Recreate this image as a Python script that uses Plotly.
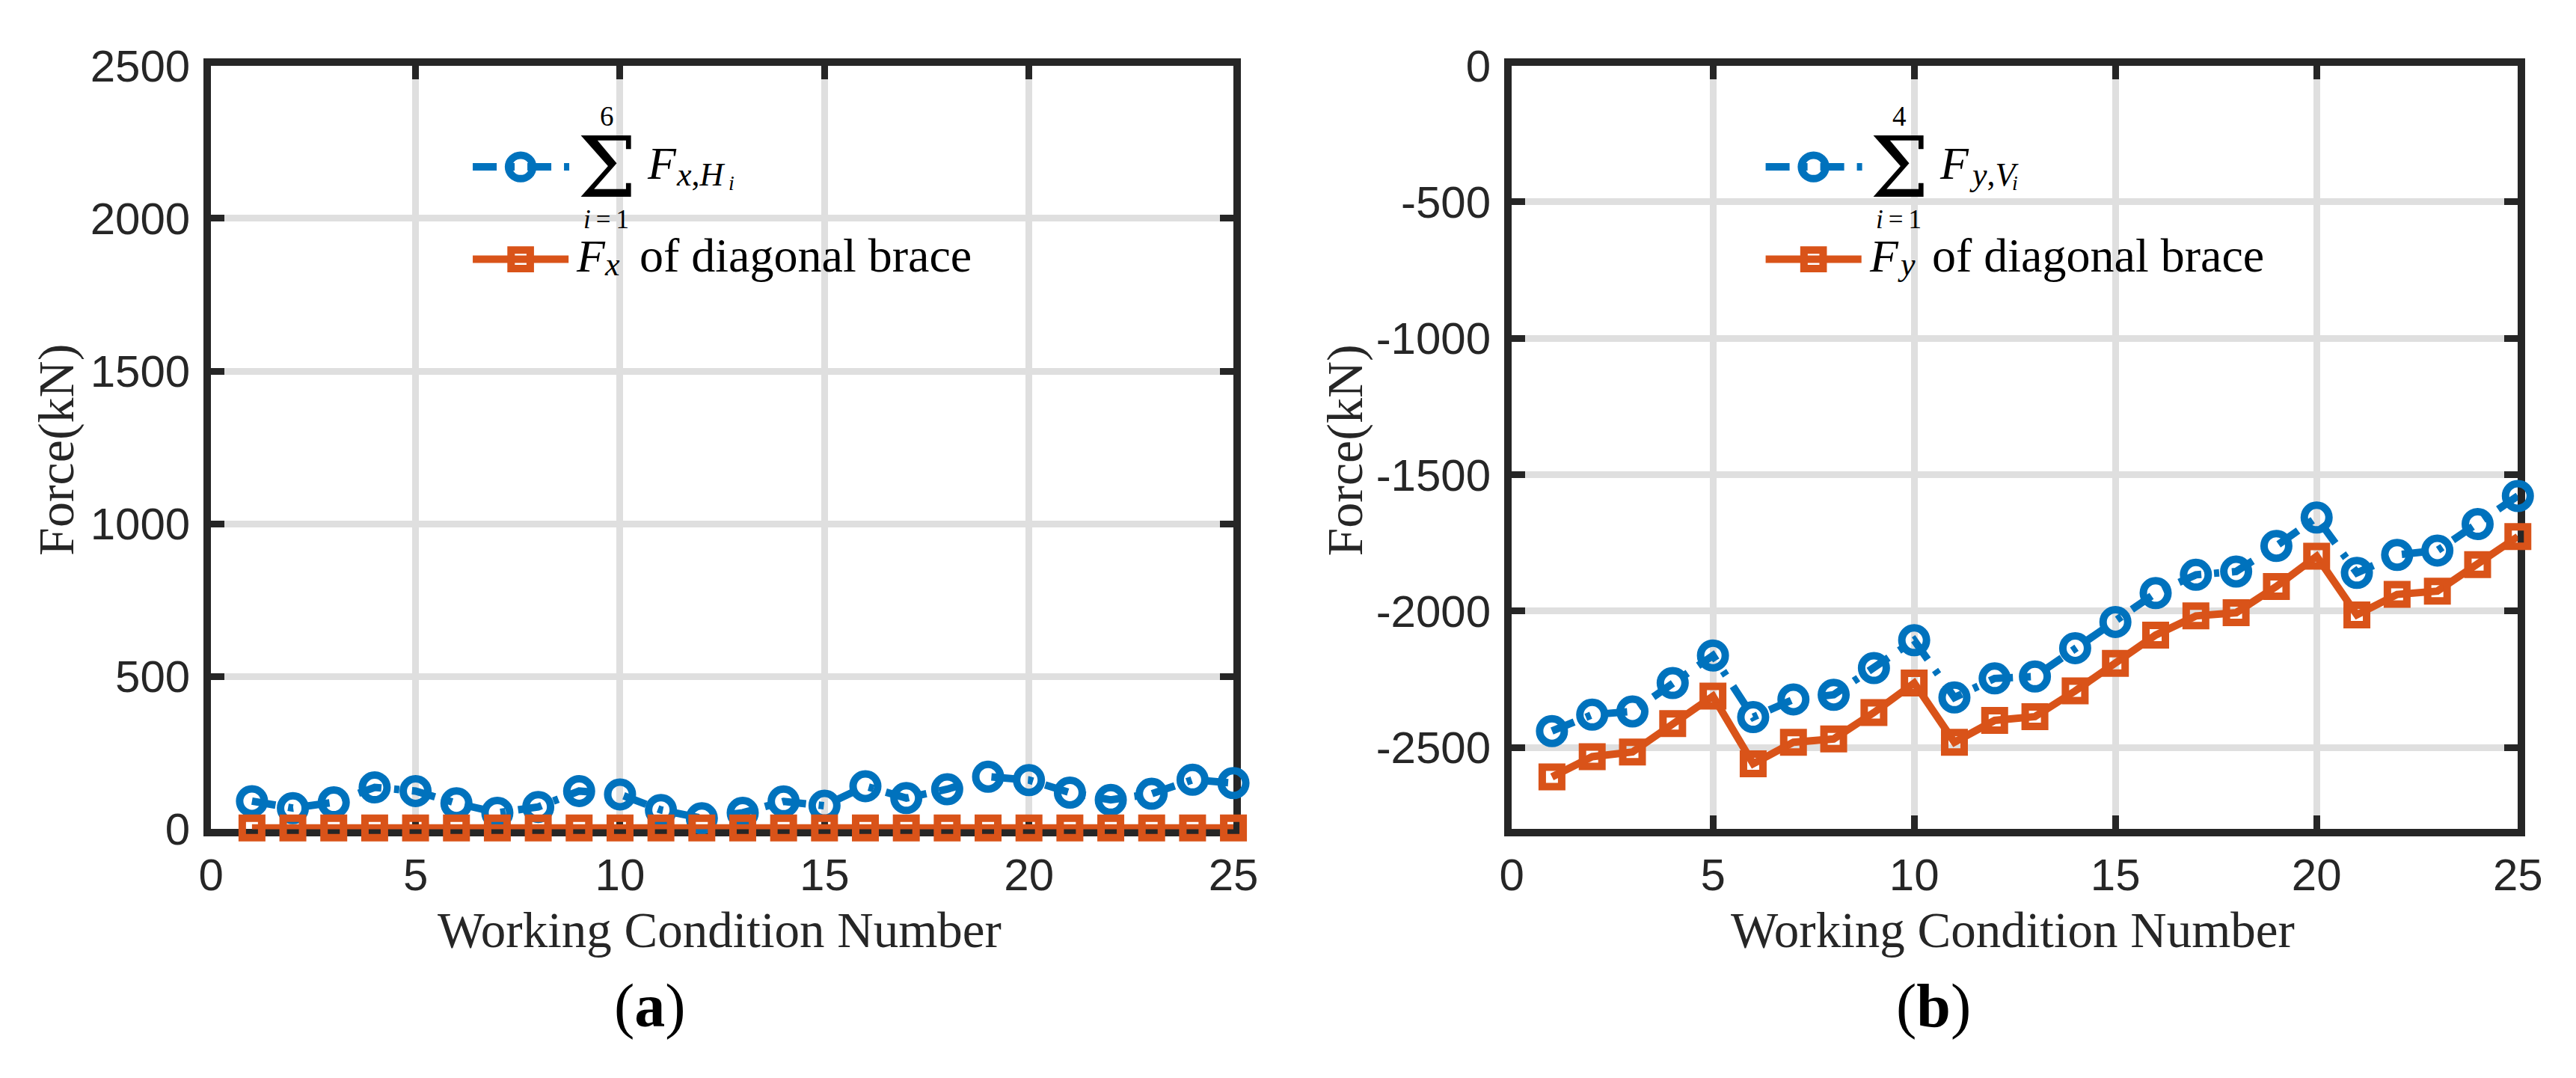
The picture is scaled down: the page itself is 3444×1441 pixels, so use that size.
import plotly.graph_objects as go

W, H = 3444, 1441

# ---------------- data ----------------
cond = list(range(1, 26))
sum_fx = [92, 69, 88, 137, 125, 85, 54, 73, 125, 114, 63, 36, 54, 91, 77,
          141, 102, 131, 172, 161, 120, 96, 116, 162, 151]
brace_fx = [4] * 25
sum_fy = [-2440, -2380, -2368, -2264, -2163, -2389, -2324, -2307, -2209, -2107,
          -2317, -2247, -2240, -2136, -2040, -1934, -1867, -1855, -1761, -1657,
          -1860, -1794, -1778, -1681, -1578]
brace_fy = [-2608, -2534, -2517, -2413, -2312, -2560, -2481, -2469, -2372, -2264,
            -2481, -2401, -2387, -2293, -2192, -2088, -2018, -2006, -1910, -1799,
            -2014, -1939, -1927, -1830, -1727]
x_ticks = [0, 5, 10, 15, 20, 25]
y1_ticks = [0, 500, 1000, 1500, 2000, 2500]
y2_ticks = [-2500, -2000, -1500, -1000, -500, 0]
y2_ticktext = ["-2500", "-2000", "-1500", "-1000", "-500", "0"]

BLUE = "#0072BD"
ORANGE = "#D95319"
AX = "#262626"
GRID = "#dfdfdf"
SANS = "Liberation Sans"
SERIF = "Liberation Serif"
DASHDOT = "32px,17px,7px,17px"


def px(x):
    return x / W


def py(y):
    return 1 - y / H


fig = go.Figure()


def add_series(xa, ya, ys, color, symbol, msize, mlw, dash):
    fig.add_trace(go.Scatter(
        x=cond, y=ys, xaxis=xa, yaxis=ya, mode="lines+markers",
        line=dict(color=color, width=10, dash=dash),
        marker=dict(symbol=symbol, size=msize, color=color,
                    line=dict(color=color, width=mlw)),
        cliponaxis=False, showlegend=False))


add_series("x", "y", sum_fx, BLUE, "circle-open", 33, 10, DASHDOT)
add_series("x", "y", brace_fx, ORANGE, "square-open", 26, 10, "solid")
add_series("x2", "y2", sum_fy, BLUE, "circle-open", 33, 10, DASHDOT)
add_series("x2", "y2", brace_fy, ORANGE, "square-open", 26, 10, "solid")

axis_common = dict(
    showline=True, linewidth=10, linecolor=AX, mirror="ticks",
    ticks="inside", ticklen=18, tickwidth=9, tickcolor=AX,
    showgrid=True, gridcolor=GRID, gridwidth=9, zeroline=False,
    tickfont=dict(family=SANS, size=60, color=AX), layer="below traces",
)

yb, yt = 1119.5, 49
fig.update_layout(
    width=W, height=H, margin=dict(l=0, r=0, t=0, b=0),
    paper_bgcolor="white", plot_bgcolor="white", showlegend=False,
    xaxis=dict(domain=[px(261), px(1648)], range=[0, 25], tickvals=x_ticks,
               anchor="y", **axis_common),
    yaxis=dict(domain=[py(yb), py(yt)], range=[0, 2500], tickvals=y1_ticks,
               anchor="x", ticklabelstandoff=6, **axis_common),
    xaxis2=dict(domain=[px(2025.5), px(3390.5)], range=[0, 25], tickvals=x_ticks,
                anchor="y2", **axis_common),
    yaxis2=dict(domain=[py(yb), py(yt)], range=[-2800, 0], tickvals=y2_ticks,
                ticktext=y2_ticktext, anchor="x2", ticklabelstandoff=6,
                **axis_common),
)

ann = []


def text(x, y, s, size, xanchor="left", family=SERIF, color="black", angle=0):
    ann.append(dict(x=px(x), y=py(y), xref="paper", yref="paper", text=s,
                    showarrow=False, xanchor=xanchor, yanchor="middle",
                    textangle=angle, borderpad=0,
                    font=dict(family=family, size=size, color=color)))


# axis titles
for cx in (951, 2705):
    text(cx, 1261, "Working Condition Number", 67, "center", color=AX)
text(50, 588, "Force(kN)", 68, "center", color=AX, angle=-90)
text(1799, 588, "Force(kN)", 68, "center", color=AX, angle=-90)
# panel labels
text(856, 1367, "(<b>a</b>)", 82, "center")
text(2598, 1367, "(<b>b</b>)", 82, "center")

# legends (drawn manually)
shapes = []
legend_specs = [
    (0, "6", "<i>x</i>,<i>H</i>", 962, "<i>x</i>"),
    (1754, "4", "<i>y</i>,<i>V</i>", 2703, "<i>y</i>"),
]
for off, top, sub1, sub_i_x, sub2 in legend_specs:
    # row 1 sample (dash-dot line with open circle)
    shapes.append(dict(type="line", xref="paper", yref="paper",
                       x0=px(616 + off), x1=px(747 + off), y0=py(191), y1=py(191),
                       line=dict(color=BLUE, width=10, dash=DASHDOT)))
    shapes.append(dict(type="circle", xref="paper", yref="paper",
                       x0=px(681 + off - 16.5), x1=px(681 + off + 16.5),
                       y0=py(191 - 16.5), y1=py(191 + 16.5),
                       line=dict(color=BLUE, width=10)))
    # row 2 sample (solid line with open square)
    shapes.append(dict(type="line", xref="paper", yref="paper",
                       x0=px(616 + off), x1=px(746 + off), y0=py(320.5), y1=py(320.5),
                       line=dict(color=ORANGE, width=10)))
    shapes.append(dict(type="rect", xref="paper", yref="paper",
                       x0=px(681 + off - 13), x1=px(681 + off + 13),
                       y0=py(320.5 - 13), y1=py(320.5 + 13),
                       line=dict(color=ORANGE, width=10)))
    # row 1 label: summation with limits
    text(798 + off, 192, "\u03a3", 112, "center", family="DejaVu Serif")
    text(798 + off, 120, top, 37, "center")
    text(797 + off, 265, "<i>i</i>\u2009=\u20091", 35, "center")
    text(851 + off, 186, "<i>F</i>", 62)
    text(891 + off, 202, sub1, 44)
    text(sub_i_x, 213, "<i>i</i>", 28)
    # row 2 label
    text(755 + off, 316, "<i>F</i>", 62)
    text(794 + off, 328, sub2, 44)
    text(841 + off, 315, "of diagonal brace", 64)

fig.update_layout(annotations=ann, shapes=shapes)
fig.write_html("out.html")
